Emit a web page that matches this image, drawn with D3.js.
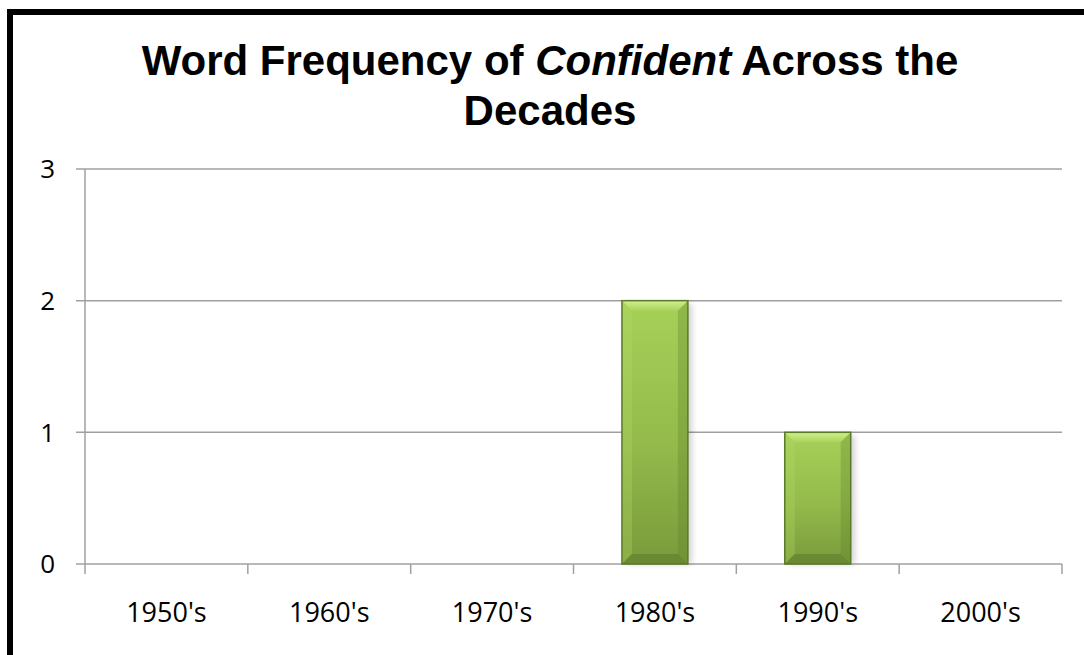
<!DOCTYPE html>
<html>
<head>
<meta charset="utf-8">
<script src="https://cdn.jsdelivr.net/npm/d3@7"></script>
<style>
    html, body { margin: 0; padding: 0; background: #fff; }
    svg { display: block; }
</style>
</head>
<body>
<div id="chart"></div>
<script>
// chart data
var decades = ["1950's", "1960's", "1970's", "1980's", "1990's", "2000's"];
var frequencies = [0, 0, 0, 2, 1, 0];
var yTicks = [0, 1, 2, 3];
var titleParts = [
    {text: "Word Frequency of ", italic: false},
    {text: "Confident", italic: true},
    {text: " Across the", italic: false}
];
var titleLine2 = "Decades";

const WIDTH = 1084;
const HEIGHT = 655;

var margin = {top: 169, right: 22, bottom: 91, left: 85};
var plotW = WIDTH - margin.left - margin.right;
var plotH = HEIGHT - margin.top - margin.bottom;

var svg = d3.select("#chart").append("svg")
    .attr("width", WIDTH)
    .attr("height", HEIGHT);

var defs = svg.append("defs");

var bodyGrad = defs.append("linearGradient")
    .attr("id", "barBody").attr("x1", 0).attr("y1", 0).attr("x2", 0).attr("y2", 1);
bodyGrad.append("stop").attr("offset", "0%").attr("stop-color", "#a6d158");
bodyGrad.append("stop").attr("offset", "55%").attr("stop-color", "#93ba4b");
bodyGrad.append("stop").attr("offset", "100%").attr("stop-color", "#7a9a3b");

var topGrad = defs.append("linearGradient")
    .attr("id", "barTop").attr("x1", 0).attr("y1", 0).attr("x2", 0).attr("y2", 1);
topGrad.append("stop").attr("offset", "0%").attr("stop-color", "#d2f08e");
topGrad.append("stop").attr("offset", "100%").attr("stop-color", "#a9d25a");

var blur = defs.append("filter").attr("id", "shadow")
    .attr("x", "-20%").attr("y", "-20%").attr("width", "140%").attr("height", "140%");
blur.append("feGaussianBlur").attr("stdDeviation", 3);

// outer frame, cut by the window at right and bottom
svg.append("rect")
    .attr("x", 10).attr("y", 12)
    .attr("width", 1120).attr("height", 700)
    .attr("fill", "#fff")
    .attr("stroke", "#000")
    .attr("stroke-width", 6);

// title
var title = svg.append("text")
    .attr("text-anchor", "middle")
    .attr("font-family", "'Liberation Sans', Arial, sans-serif")
    .attr("font-weight", "bold")
    .attr("font-size", "42px")
    .attr("fill", "#000");
var line1 = title.append("tspan").attr("x", 550).attr("y", 75);
titleParts.forEach(function(p) {
    line1.append("tspan")
        .attr("font-style", p.italic ? "italic" : "normal")
        .text(p.text);
});
title.append("tspan").attr("x", 550).attr("y", 125).text(titleLine2);

var x = d3.scaleBand()
    .domain(decades)
    .range([0, plotW])
    .paddingInner(0.595)
    .paddingOuter(0.2975);

var y = d3.scaleLinear()
    .domain([0, 3])
    .range([plotH, 0]);

var g = svg.append("g")
    .attr("transform", "translate(" + margin.left + "," + margin.top + ")");

// gridlines + y ticks
g.append("g").selectAll("line")
    .data(yTicks)
    .join("line")
    .attr("x1", -9).attr("x2", plotW)
    .attr("y1", function(d) { return y(d); })
    .attr("y2", function(d) { return y(d); })
    .attr("stroke", "#a0a0a0")
    .attr("stroke-width", 1.5);

// y axis line
g.append("line")
    .attr("x1", 0).attr("x2", 0)
    .attr("y1", 0).attr("y2", plotH)
    .attr("stroke", "#a0a0a0")
    .attr("stroke-width", 1.5);

g.append("g").selectAll("text")
    .data(yTicks)
    .join("text")
    .attr("x", -30)
    .attr("y", function(d) { return y(d); })
    .attr("dy", "0.36em")
    .attr("text-anchor", "end")
    .attr("font-family", "'Open Sans', sans-serif")
    .attr("font-size", "26px")
    .attr("fill", "#000")
    .text(function(d) { return d; });

// x axis ticks at category borders
var step = x.step();
var borders = d3.range(decades.length + 1);
g.append("g").selectAll("line")
    .data(borders)
    .join("line")
    .attr("x1", function(i) { return i * step; })
    .attr("x2", function(i) { return i * step; })
    .attr("y1", plotH)
    .attr("y2", plotH + 10)
    .attr("stroke", "#a0a0a0")
    .attr("stroke-width", 1.5);

g.append("g").selectAll("text")
    .data(decades)
    .join("text")
    .attr("x", function(d) { return x(d) + x.bandwidth() / 2; })
    .attr("y", plotH + 48)
    .attr("dy", "0.36em")
    .attr("text-anchor", "middle")
    .attr("font-family", "'Open Sans', sans-serif")
    .attr("font-size", "27px")
    .attr("fill", "#000")
    .text(function(d) { return d; });

// bevelled bars
var bars = g.append("g").selectAll("g")
    .data(decades.map(function(d, i) { return {decade: d, value: frequencies[i]}; })
                 .filter(function(d) { return d.value > 0; }))
    .join("g");

bars.each(function(d) {
    var bx = x(d.decade);
    var bw = x.bandwidth();
    var by = y(d.value);
    var bh = y(0) - by;
    var b = 10;
    var sel = d3.select(this);

    sel.append("rect")
        .attr("x", bx + 4).attr("y", by + 3)
        .attr("width", bw).attr("height", bh - 3)
        .attr("fill", "#000").attr("opacity", 0.18)
        .attr("filter", "url(#shadow)");

    sel.append("rect")
        .attr("x", bx).attr("y", by)
        .attr("width", bw).attr("height", bh)
        .attr("fill", "url(#barBody)");

    sel.append("polygon")
        .attr("points", [[bx, by], [bx + bw, by], [bx + bw - b, by + b], [bx + b, by + b]].join(" "))
        .attr("fill", "url(#barTop)");

    sel.append("polygon")
        .attr("points", [[bx, by], [bx + b, by + b], [bx + b, by + bh - b], [bx, by + bh]].join(" "))
        .attr("fill", "#b4dc66").attr("opacity", 0.3);

    sel.append("polygon")
        .attr("points", [[bx + bw, by], [bx + bw - b, by + b], [bx + bw - b, by + bh - b], [bx + bw, by + bh]].join(" "))
        .attr("fill", "#5e7d2b").attr("opacity", 0.3);

    sel.append("polygon")
        .attr("points", [[bx, by + bh], [bx + b, by + bh - b], [bx + bw - b, by + bh - b], [bx + bw, by + bh]].join(" "))
        .attr("fill", "#65832f").attr("opacity", 0.75);

    sel.append("rect")
        .attr("x", bx).attr("y", by)
        .attr("width", bw).attr("height", bh)
        .attr("fill", "none")
        .attr("stroke", "#5a7a28")
        .attr("stroke-width", 1.5);
});
</script>
</body>
</html>
